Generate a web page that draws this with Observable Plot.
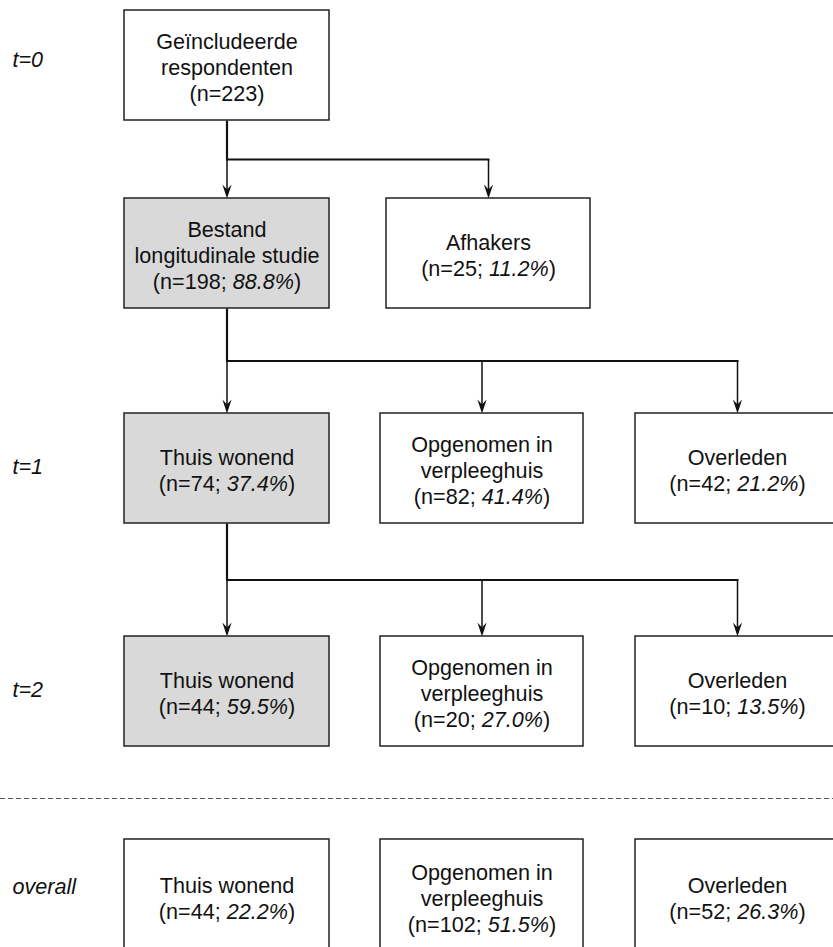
<!DOCTYPE html>
<html>
<head>
<meta charset="utf-8">
<script src="https://cdn.jsdelivr.net/npm/d3@7"></script>
<script src="https://cdn.jsdelivr.net/npm/@observablehq/plot@0.6"></script>
<style>
  html, body { margin: 0; padding: 0; background: #fff; overflow: hidden; }
  #chart svg { display: block; }
</style>
</head>
<body>
<div id="chart"></div>
<script>
// ---------- DATA ----------
const stages = ["t=0", "t=1", "t=2", "overall"];
const nodeLabels = [
  "Geïncludeerde\nrespondenten",
  "Bestand\nlongitudinale studie",
  "Afhakers",
  "Thuis wonend",
  "Opgenomen in\nverpleeghuis",
  "Overleden",
  "Thuis wonend",
  "Opgenomen in\nverpleeghuis",
  "Overleden",
  "Thuis wonend",
  "Opgenomen in\nverpleeghuis",
  "Overleden"
];
const nodeN   = [223, 198, 25, 74, 82, 42, 44, 20, 10, 44, 102, 52];
const nodePct = [null, 88.8, 11.2, 37.4, 41.4, 21.2, 59.5, 27.0, 13.5, 22.2, 51.5, 26.3];
const nodeInStudy = [false, true, false, true, false, false, true, false, false, false, false, false];
const edges = [[0, 1], [0, 2], [1, 3], [1, 4], [1, 5], [3, 6], [3, 7], [3, 8]];

// ---------- LAYOUT ----------
const W = 833, H = 947;
const colX = { A: [124, 329], B: [380, 583], C: [635, 839], D: [386, 590] };
const rowY = [[10, 120], [198, 308], [413, 523], [636, 746], [839, 952]];
const nodeCol = ["A", "A", "D", "A", "B", "C", "A", "B", "C", "A", "B", "C"];
const nodeRow = [0, 1, 1, 2, 2, 2, 3, 3, 3, 4, 4, 4];
const stageLabelY = [60, 467, 690, 887];
const dividerY = 798;

const nodes = nodeLabels.map((label, i) => {
  const [x1, x2] = colX[nodeCol[i]];
  const [y1, y2] = rowY[nodeRow[i]];
  const last = nodePct[i] == null ? `(n=${nodeN[i]})` : `(n=${nodeN[i]}; ${nodePct[i].toFixed(1)}%)`;
  return { i, x1, x2, y1, y2, cx: (x1 + x2) / 2, cy: (y1 + y2) / 2 + 1.5,
           text: label + "\n" + last, inStudy: nodeInStudy[i] };
});
const trunks = [], buses = [], drops = [], heads = [];
const seenTrunk = new Set();
for (const [p, c] of edges) {
  const P = nodes[p], C = nodes[c];
  const busY = (P.y2 + C.y1) / 2;
  if (!seenTrunk.has(p)) {
    seenTrunk.add(p);
    trunks.push({ x1: P.cx, y1: P.y2, x2: P.cx, y2: busY });
  }
  buses.push({ x1: P.cx, y1: busY, x2: C.cx, y2: busY });
  drops.push({ x1: C.cx, y1: busY, x2: C.cx, y2: C.y1 - 4 });
  heads.push({ x: C.cx, y: C.y1 });
}
const stageData = stages.map((s, k) => ({ s, y: stageLabelY[k] }));

const arrowHead = {
  draw(ctx, size) {
    ctx.moveTo(0, 0);
    ctx.lineTo(-4.6, -14);
    ctx.lineTo(0, -9);
    ctx.lineTo(4.6, -14);
    ctx.closePath();
  }
};

const font = "'Liberation Sans', Arial, Helvetica, sans-serif";
const seg = { x1: "x1", y1: "y1", x2: "x2", y2: "y2", stroke: "#111" };
const plot = Plot.plot({
  width: W, height: H,
  margin: 0,
  x: { domain: [0, W], range: [0, W], axis: null },
  y: { domain: [0, H], range: [0, H], axis: null },
  style: { fontFamily: font, background: "#fff" },
  marks: [
    Plot.ruleY([dividerY], { stroke: "#555", strokeWidth: 1, strokeDasharray: "5,3" }),
    Plot.link(trunks, { ...seg, strokeWidth: 2.2 }),
    Plot.link(buses, { ...seg, strokeWidth: 2, strokeLinecap: "square" }),
    Plot.link(drops, { ...seg, strokeWidth: 1.5 }),
    Plot.dot(heads, { x: "x", y: "y", symbol: arrowHead, r: 5, fill: "#111", stroke: "none" }),
    Plot.rect(nodes, { x1: "x1", x2: "x2", y1: "y1", y2: "y2",
      fill: d => d.inStudy ? "#d9d9d9" : "#ffffff", stroke: "#222", strokeWidth: 1.5 }),
    Plot.text(nodes, { x: "cx", y: "cy", text: "text", fontSize: 21.6, lineHeight: 1.2,
      textAnchor: "middle", lineAnchor: "middle", fill: "#111" }),
    Plot.text(stageData, { x: 12, y: "y", text: "s", fontSize: 21.6, fontStyle: "italic",
      textAnchor: "start", lineAnchor: "middle", fill: "#111" })
  ]
});

// italicise the percentages
plot.querySelectorAll("tspan, text").forEach(el => {
  if (el.children.length) return;
  const m = el.textContent.match(/^(\(n=\d+; )(\d+\.\d%)(\))$/);
  if (!m) return;
  el.textContent = "";
  const ns = "http://www.w3.org/2000/svg";
  [m[1], m[2], m[3]].forEach((t, k) => {
    const s = document.createElementNS(ns, "tspan");
    s.textContent = t;
    if (k === 1) s.setAttribute("font-style", "italic");
    el.appendChild(s);
  });
});
document.getElementById("chart").appendChild(plot);
</script>
</body>
</html>
